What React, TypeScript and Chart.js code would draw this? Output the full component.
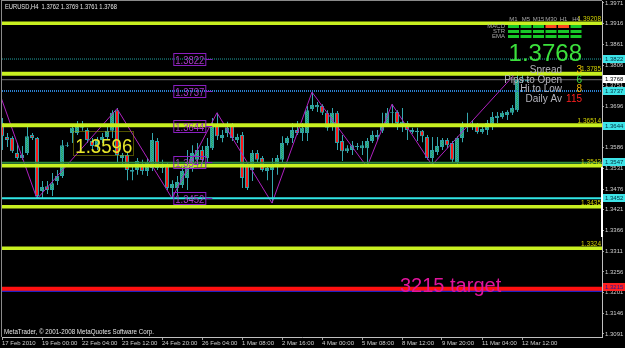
import React, { useEffect, useRef } from 'react';
import { Chart, registerables } from 'chart.js';

Chart.register(...registerables);

// ---- candle data (EURUSD H4) ----
const openP = [
  1.3652, 1.3615, 1.3612, 1.3572, 1.3559, 1.3572, 1.3620, 1.3612, 1.3471, 1.3484,
  1.3474, 1.3498, 1.3511, 1.3591, 1.3625, 1.3625, 1.3647, 1.3633, 1.3604, 1.3591,
  1.3607, 1.3615, 1.3631, 1.3686, 1.3559, 1.3567, 1.3522, 1.3527, 1.3543, 1.3524,
  1.3532, 1.3604, 1.3532, 1.3540, 1.3479, 1.3479, 1.3487, 1.3506, 1.3532, 1.3554,
  1.3580, 1.3559, 1.3585, 1.3647, 1.3612, 1.3625, 1.3644, 1.3607, 1.3620, 1.3538,
  1.3527, 1.3572, 1.3559, 1.3524, 1.3527, 1.3538, 1.3554, 1.3599, 1.3612, 1.3633,
  1.3625, 1.3625, 1.3689, 1.3694, 1.3697, 1.3679, 1.3647, 1.3679, 1.3604, 1.3577,
  1.3580, 1.3588, 1.3585, 1.3585, 1.3604, 1.3615, 1.3631, 1.3647, 1.3679, 1.3681,
  1.3649, 1.3652, 1.3628, 1.3628, 1.3631, 1.3615, 1.3559, 1.3575, 1.3588, 1.3607,
  1.3599, 1.3548, 1.3612, 1.3641, 1.3649, 1.3647, 1.3628, 1.3633, 1.3647, 1.3665,
  1.3668, 1.3673, 1.3679, 1.3686, 1.3770, 1.3762,
];
const highP = [
  1.3665, 1.3625, 1.3617, 1.3599, 1.3591, 1.3644, 1.3625, 1.3615, 1.3498, 1.3498,
  1.3519, 1.3527, 1.3607, 1.3601, 1.3647, 1.3657, 1.3657, 1.3639, 1.3612, 1.3615,
  1.3625, 1.3644, 1.3686, 1.3692, 1.3572, 1.3572, 1.3535, 1.3559, 1.3554, 1.3559,
  1.3625, 1.3612, 1.3554, 1.3546, 1.3500, 1.3511, 1.3538, 1.3580, 1.3593, 1.3599,
  1.3591, 1.3612, 1.3665, 1.3679, 1.3633, 1.3655, 1.3652, 1.3623, 1.3628, 1.3546,
  1.3580, 1.3580, 1.3564, 1.3538, 1.3559, 1.3567, 1.3617, 1.3617, 1.3652, 1.3657,
  1.3652, 1.3697, 1.3734, 1.3708, 1.3702, 1.3686, 1.3692, 1.3684, 1.3620, 1.3593,
  1.3604, 1.3599, 1.3604, 1.3612, 1.3631, 1.3633, 1.3679, 1.3692, 1.3702, 1.3686,
  1.3692, 1.3657, 1.3639, 1.3639, 1.3633, 1.3620, 1.3615, 1.3615, 1.3612, 1.3612,
  1.3604, 1.3617, 1.3655, 1.3679, 1.3660, 1.3652, 1.3644, 1.3660, 1.3681, 1.3681,
  1.3684, 1.3686, 1.3700, 1.3788, 1.3780, 1.3769,
];
const lowP = [
  1.3580, 1.3588, 1.3572, 1.3554, 1.3554, 1.3567, 1.3607, 1.3450, 1.3452, 1.3463,
  1.3458, 1.3487, 1.3506, 1.3588, 1.3599, 1.3620, 1.3631, 1.3599, 1.3580, 1.3580,
  1.3599, 1.3607, 1.3612, 1.3548, 1.3538, 1.3500, 1.3500, 1.3514, 1.3514, 1.3511,
  1.3524, 1.3527, 1.3519, 1.3474, 1.3452, 1.3460, 1.3479, 1.3474, 1.3522, 1.3540,
  1.3540, 1.3548, 1.3580, 1.3607, 1.3601, 1.3615, 1.3604, 1.3599, 1.3479, 1.3474,
  1.3498, 1.3546, 1.3522, 1.3500, 1.3439, 1.3514, 1.3546, 1.3593, 1.3599, 1.3620,
  1.3604, 1.3604, 1.3684, 1.3681, 1.3673, 1.3631, 1.3631, 1.3580, 1.3551, 1.3572,
  1.3567, 1.3580, 1.3567, 1.3535, 1.3599, 1.3604, 1.3625, 1.3641, 1.3647, 1.3633,
  1.3628, 1.3607, 1.3623, 1.3604, 1.3601, 1.3554, 1.3540, 1.3567, 1.3580, 1.3585,
  1.3548, 1.3540, 1.3601, 1.3628, 1.3633, 1.3623, 1.3623, 1.3620, 1.3633, 1.3652,
  1.3663, 1.3660, 1.3673, 1.3681, 1.3758, 1.3761,
];
const closeP = [
  1.3617, 1.3607, 1.3577, 1.3559, 1.3567, 1.3617, 1.3612, 1.3458, 1.3482, 1.3474,
  1.3492, 1.3511, 1.3593, 1.3593, 1.3639, 1.3644, 1.3639, 1.3607, 1.3591, 1.3607,
  1.3615, 1.3631, 1.3679, 1.3567, 1.3567, 1.3527, 1.3527, 1.3551, 1.3524, 1.3546,
  1.3607, 1.3532, 1.3543, 1.3479, 1.3490, 1.3495, 1.3524, 1.3538, 1.3572, 1.3580,
  1.3554, 1.3591, 1.3647, 1.3617, 1.3620, 1.3639, 1.3612, 1.3615, 1.3506, 1.3479,
  1.3572, 1.3554, 1.3527, 1.3532, 1.3543, 1.3559, 1.3599, 1.3612, 1.3633, 1.3625,
  1.3639, 1.3686, 1.3700, 1.3700, 1.3679, 1.3639, 1.3679, 1.3599, 1.3577, 1.3585,
  1.3593, 1.3591, 1.3593, 1.3604, 1.3620, 1.3620, 1.3647, 1.3679, 1.3681, 1.3652,
  1.3655, 1.3633, 1.3633, 1.3631, 1.3617, 1.3559, 1.3580, 1.3591, 1.3607, 1.3593,
  1.3554, 1.3612, 1.3647, 1.3649, 1.3641, 1.3628, 1.3636, 1.3652, 1.3668, 1.3671,
  1.3679, 1.3681, 1.3692, 1.3769, 1.3762, 1.3768,
];

// ---- zigzag ----
const zigzagIdx = [-1, 7, 23, 34, 43, 54, 62, 73, 78, 86, 103];
const zigzagVal = [1.3750, 1.3450, 1.3690, 1.3452, 1.3679, 1.3439, 1.3734, 1.3535, 1.3702, 1.3540, 1.3788];

// ---- axes ----
const xTickLabels = [
  '17 Feb 2010', '19 Feb 00:00', '22 Feb 04:00', '23 Feb 12:00', '24 Feb 20:00', '26 Feb 04:00',
  '1 Mar 08:00', '2 Mar 16:00', '4 Mar 00:00', '5 Mar 08:00', '8 Mar 12:00', '9 Mar 20:00',
  '11 Mar 04:00', '12 Mar 12:00',
];
const yTickValues = [
  1.3971, 1.3916, 1.3861, 1.3806, 1.3751, 1.3696, 1.3641, 1.3586, 1.3531,
  1.3476, 1.3421, 1.3366, 1.3311, 1.3256, 1.3201, 1.3146, 1.3091,
];

// ---- horizontal levels ----
const levelValues = [1.3917, 1.3822, 1.3783, 1.3767, 1.3737, 1.3644, 1.3646, 1.3546, 1.3538, 1.3452, 1.3429, 1.3319, 1.3205, 1.3211];
const levelTexts = ['1.39208', '', '1.3785', '', '', '', '1.36514', '', '1.3542', '', '1.3435', '1.3324', '', ''];
const levelColors = ['#c8f020', '#1fa5a5', '#c8f020', '#6e6e6e', '#2a7fd0', '#1fa5a5', '#c8f020', '#2e8b3e', '#c8f020', '#30e6e6', '#c8f020', '#c8f020', '#2020c0', '#ff1010'];
const levelWidths = [3.5, 1, 4, 1, 2, 1, 4, 2, 3.5, 2, 3.5, 3.5, 2, 4];
const levelDotted = [false, true, false, false, true, false, false, false, false, false, false, false, false, false];

// ---- price labels ----
const purpleValues = [1.3822, 1.3737, 1.3644, 1.3547, 1.3452];
const axisBoxValues = [1.3822, 1.3768, 1.3737, 1.3644, 1.3547, 1.3452, 1.3215];
const axisBoxFill = ['#3ee4e8', '#ffffff', '#3ee4e8', '#3ee4e8', '#3ee4e8', '#3ee4e8', '#ff2020'];
const axisBoxText = ['#003040', '#000000', '#003040', '#003040', '#003040', '#003040', '#1a1aa0'];
const markedPrice = 1.3596;
const currentPriceText = '1.3768';
const targetText = '3215 target';

// ---- info panel ----
const infoLabels = ['Spread', 'Pips to Open', 'Hi to Low', 'Daily Av'];
const infoValues = ['3', '6', '8', '115'];
const infoValueColors = ['#f0c000', '#40e040', '#f0b000', '#ff2020'];
const tfLabels = ['M1', 'M5', 'M15', 'M30', 'H1', 'H4'];
const indLabels = ['MACD', 'STR', 'EMA'];
const signals = [
  [1, 1, 1, 0, 0, 1],
  [1, 1, 1, 1, 1, 1],
  [1, 1, 1, 1, 1, 1],
];

const titleText = 'EURUSD,H4  1.3762 1.3769 1.3761 1.3768';
const copyText = 'MetaTrader, \u00a9 2001-2008 MetaQuotes Software Corp.';

const FONT = '"Liberation Sans", Arial, sans-serif';

function overlayDraw(chart: any) {
  const ctx = chart.ctx as CanvasRenderingContext2D;
  const xs = chart.scales.x;
  const ys = chart.scales.y;
  const ca = chart.chartArea;
  ctx.save();

  // frame
  ctx.fillStyle = '#8a8a8a';
  ctx.fillRect(1, 0, ca.right - 1, 1);
  ctx.fillRect(1, 0, 1, ca.bottom);
  ctx.fillStyle = '#ffffff';
  ctx.fillRect(ca.right - 1, 167, 2, 70);

  // level labels
  ctx.font = `6.5px ${FONT}`;
  ctx.textAlign = 'right';
  ctx.textBaseline = 'alphabetic';
  ctx.fillStyle = '#d2d200';
  levelValues.forEach((v, k) => {
    if (!levelTexts[k]) return;
    const y = ys.getPixelForValue(v) - levelWidths[k] / 2 - 0.5;
    ctx.fillText(levelTexts[k], ca.right - 1, y);
  });

  // purple price labels
  const pLeft = xs.getPixelForValue(34.26);
  purpleValues.forEach((v) => {
    const y = Math.round(ys.getPixelForValue(v));
    ctx.strokeStyle = '#8a1ec0';
    ctx.lineWidth = 1;
    ctx.strokeRect(pLeft + 0.5, y - 5.5, 32, 12);
    ctx.beginPath();
    ctx.moveTo(pLeft + 32.5, y + 0.5);
    ctx.lineTo(pLeft + 39, y + 0.5);
    ctx.stroke();
    ctx.fillStyle = '#a838c8';
    ctx.font = `11px ${FONT}`;
    ctx.textAlign = 'left';
    ctx.fillText(v.toFixed(4), pLeft + 2, y + 5, 29);
  });

  // marked price box
  const mLeft = xs.getPixelForValue(14.26);
  const my = ys.getPixelForValue(markedPrice);
  ctx.setLineDash([1, 1]);
  ctx.strokeStyle = '#a0a000';
  ctx.strokeRect(Math.round(mLeft) + 0.5, Math.round(my) - 12.5, 60, 24);
  ctx.setLineDash([]);
  ctx.fillStyle = '#e8e82a';
  ctx.font = `21px ${FONT}`;
  ctx.textAlign = 'left';
  ctx.fillText(markedPrice.toFixed(4), mLeft + 2, my + 8.5, 57);

  // target text
  ctx.fillStyle = '#e0149c';
  ctx.font = `20px ${FONT}`;
  ctx.fillText(targetText, xs.getPixelForValue(79.6), ys.getPixelForValue(1.3203));

  // signal grid
  const gx0 = ca.right - 94;
  ctx.font = `6px ${FONT}`;
  ctx.textAlign = 'center';
  ctx.fillStyle = '#a8a8a8';
  tfLabels.forEach((t, c) => ctx.fillText(t, gx0 + c * 12.5 + 5.5, 21));
  ctx.textAlign = 'right';
  indLabels.forEach((t, r) => ctx.fillText(t, gx0 - 3, 28 + r * 5));
  signals.forEach((row, r) => {
    row.forEach((s, c) => {
      ctx.fillStyle = s ? '#18c828' : '#ff4a20';
      ctx.fillRect(gx0 + c * 12.5, 25 + r * 5, 11, 3);
    });
  });

  // big price
  ctx.fillStyle = '#3ce03c';
  ctx.font = `24px ${FONT}`;
  ctx.textAlign = 'right';
  ctx.fillText(currentPriceText, ca.right - 20, 61);

  // info lines
  ctx.font = `10px ${FONT}`;
  infoLabels.forEach((t, k) => {
    const by = 73 + k * 9.5;
    ctx.fillStyle = '#b4b4bc';
    ctx.textAlign = 'right';
    ctx.fillText(t, ca.right - 40, by);
    ctx.fillStyle = infoValueColors[k];
    ctx.fillText(infoValues[k], ca.right - 20, by);
  });

  // axis boxes
  ctx.font = `6px ${FONT}`;
  ctx.textAlign = 'left';
  ctx.textBaseline = 'middle';
  axisBoxValues.forEach((v, k) => {
    const y = Math.round(ys.getPixelForValue(v));
    ctx.fillStyle = axisBoxFill[k];
    ctx.fillRect(ca.right + 1, y - 4, chart.width - ca.right - 1, 8);
    ctx.fillStyle = axisBoxText[k];
    ctx.fillText(v.toFixed(4), ca.right + 3, y + 0.5);
  });

  // title & copyright
  ctx.textBaseline = 'alphabetic';
  ctx.fillStyle = '#e6e6e6';
  ctx.font = `7px ${FONT}`;
  ctx.fillText(titleText, 5, 9, 112);
  ctx.fillText(copyText, 4, 334, 150);

  ctx.restore();
}

const overlayPlugin = {
  id: 'mtOverlay',
  beforeDraw(chart: any) {
    const c = chart.ctx;
    c.save();
    c.fillStyle = '#000000';
    c.fillRect(0, 0, chart.width, chart.height);
    c.restore();
  },
  afterDraw(chart: any) {
    overlayDraw(chart);
  },
};

export default function App() {
  const ref = useRef<HTMLCanvasElement>(null);

  useEffect(() => {
    document.body.style.margin = '0';
    document.body.style.background = '#000';
    const canvas = ref.current!;
    const pc = document.createElement('canvas');
    pc.width = 2;
    pc.height = 2;
    const pctx = pc.getContext('2d')!;
    pctx.fillStyle = '#22b455';
    pctx.fillRect(0, 0, 2, 2);
    pctx.fillStyle = '#3aa0a8';
    pctx.fillRect(0, 0, 1, 1);
    pctx.fillRect(1, 1, 1, 1);
    const pattern = canvas.getContext('2d')!.createPattern(pc, 'repeat');

    const idx = openP.map((_, i) => i);
    const bodyColors = idx.map((i) => (closeP[i] >= openP[i] ? pattern : '#ff1a1a'));

    const levelDatasets = levelValues.map((v, k) => ({
      type: 'line' as const,
      label: 'level' + k,
      data: [{ x: 0, y: v }, { x: 120, y: v }],
      borderColor: levelColors[k],
      borderWidth: levelWidths[k],
      borderDash: levelDotted[k] ? [1, 1] : [],
      pointRadius: 0,
      clip: 0,
      order: 5 - k * 0.01,
    }));

    const chart = new Chart(canvas, {
      type: 'bar',
      data: {
        datasets: [
          {
            type: 'bar',
            label: 'wick',
            xAxisID: 'xw',
            data: idx.map((i) => ({ x: i, y: [lowP[i], highP[i]] })) as any,
            backgroundColor: '#34a8ae',
            borderWidth: 0,
            barThickness: 1,
            grouped: false,
            inflateAmount: 0,
            order: 30,
          } as any,
          {
            type: 'bar',
            label: 'body',
            data: idx.map((i) => ({ x: i, y: [openP[i], closeP[i]] })) as any,
            backgroundColor: bodyColors,
            borderColor: '#2f9fa5',
            borderWidth: 1,
            borderSkipped: false,
            barThickness: 4,
            grouped: false,
            inflateAmount: 0,
            order: 29,
          } as any,
          {
            type: 'line',
            label: 'zigzag',
            data: zigzagIdx.map((x, k) => ({ x, y: zigzagVal[k] })),
            borderColor: '#b020c0',
            borderWidth: 1,
            pointRadius: 0,
            clip: 0,
            order: 20,
          } as any,
          ...(levelDatasets as any[]),
        ],
      },
      options: {
        responsive: false,
        animation: false,
        devicePixelRatio: 1,
        events: [],
        layout: { padding: { left: 2, top: 1, right: 0, bottom: 0 } },
        plugins: { legend: { display: false }, tooltip: { enabled: false } },
        scales: {
          x: {
            type: 'linear',
            min: 0,
            max: 120,
            offset: false,
            afterBuildTicks: (s: any) => {
              s.ticks = xTickLabels.map((_, k) => ({ value: k * 8 }));
            },
            afterFit: (s: any) => {
              s.height = 11;
              s.paddingLeft = 0;
              s.paddingRight = 0;
            },
            ticks: {
              autoSkip: false,
              maxRotation: 0,
              minRotation: 0,
              align: 'start',
              padding: 0,
              color: '#cfcfcf',
              font: { family: 'Liberation Sans', size: 6 },
              callback: (v: any) => xTickLabels[Math.round(Number(v) / 8)] ?? '',
            },
            grid: { drawOnChartArea: false, drawTicks: true, tickLength: 3, color: '#a0a0a0', offset: false },
            border: { display: true, color: '#c0c0c0' },
          },
          xw: {
            type: 'linear',
            display: false,
            min: -0.1,
            max: 119.9,
            offset: false,
            grid: { offset: false },
          },
          y: {
            type: 'linear',
            position: 'right',
            min: 1.30829,
            max: 1.39763,
            beginAtZero: false,
            afterBuildTicks: (s: any) => {
              s.ticks = yTickValues.map((v) => ({ value: v }));
            },
            afterFit: (s: any) => {
              s.width = 23;
              s.paddingTop = 0;
              s.paddingBottom = 0;
            },
            ticks: {
              autoSkip: false,
              padding: 1,
              color: '#cfcfcf',
              font: { family: 'Liberation Sans', size: 6 },
              callback: (v: any) => Number(v).toFixed(4),
            },
            grid: { drawOnChartArea: false, drawTicks: true, tickLength: 2, color: '#a0a0a0' },
            border: { display: true, color: '#c0c0c0' },
          },
        },
      } as any,
      plugins: [overlayPlugin],
    });

    return () => chart.destroy();
  }, []);

  return <canvas ref={ref} width={625} height={348} style={{ display: 'block', width: 625, height: 348 }} />;
}
